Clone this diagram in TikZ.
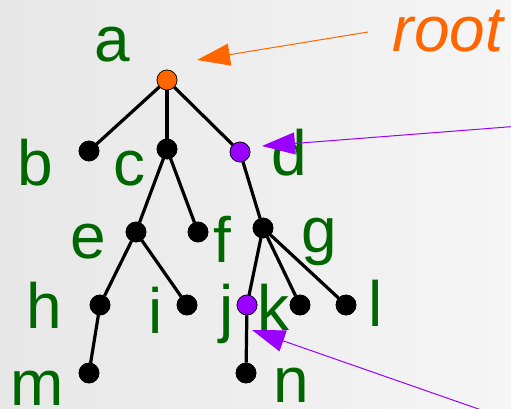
\documentclass[tikz,border=0pt]{standalone}
\usepackage{fontspec}
\setmainfont{Liberation Sans}
\usetikzlibrary{arrows.meta}
\definecolor{bgleft}{RGB}{231,231,231}
\definecolor{bgright}{RGB}{245,245,245}
\definecolor{labelgreen}{RGB}{0,102,0}
\definecolor{rootorange}{RGB}{255,102,0}
\definecolor{markpurple}{RGB}{153,0,255}
\tikzset{
  vertex/.style={circle, fill=black, draw=black, line width=0.6pt, minimum size=20pt, inner sep=0pt},
  rootvertex/.style={vertex, fill=rootorange},
  markvertex/.style={vertex, fill=markpurple},
  edge/.style={line width=3.2pt},
  lbl/.style={text=labelgreen, anchor=base, inner sep=0pt, font=\fontsize{64}{64}\selectfont},
  pointer/.style={line width=1pt, -{Triangle[length=33pt, width=22pt]}},
}
\begin{document}
\begin{tikzpicture}[x=1pt, y=-1pt]
  \useasboundingbox (0,0) rectangle (511,409);
  \clip (0,0) rectangle (511,409);
  \shade[left color=bgleft, right color=bgright] (0,0) rectangle (511,409);

  % tree vertices
  \node[rootvertex] (a) at (167,80) {};
  \node[vertex] (b) at (89,151) {};
  \node[vertex] (c) at (167,149) {};
  \node[markvertex] (d) at (240,152) {};
  \node[vertex] (e) at (136,232) {};
  \node[vertex] (f) at (198,232) {};
  \node[vertex] (g) at (263,228) {};
  \node[vertex] (h) at (100,305) {};
  \node[vertex] (i) at (187,305) {};
  \node[markvertex] (j) at (247,305) {};
  \node[vertex] (k) at (300,305) {};
  \node[vertex] (l) at (346,305) {};
  \node[vertex] (m) at (89,373) {};
  \node[vertex] (n) at (246,373) {};

  % tree edges
  \draw[edge] (a) -- (b);
  \draw[edge] (a) -- (c);
  \draw[edge] (a) -- (d);
  \draw[edge] (c) -- (e);
  \draw[edge] (c) -- (f);
  \draw[edge] (d) -- (g);
  \draw[edge] (e) -- (h);
  \draw[edge] (e) -- (i);
  \draw[edge] (h) -- (m);
  \draw[edge] (g) -- (j);
  \draw[edge] (g) -- (k);
  \draw[edge] (g) -- (l);
  \draw[edge] (j) -- (n);

  % redraw vertices over the edges
  \foreach \v/\s in {a/rootvertex,b/vertex,c/vertex,d/markvertex,e/vertex,f/vertex,g/vertex,h/vertex,i/vertex,j/markvertex,k/vertex,l/vertex,m/vertex,n/vertex}
    \node[\s] at (\v) {};

  % vertex labels
  \node[lbl] (la) at (112,62) {a};
  \node[lbl] (lb) at (35,185) {b};
  \node[lbl] (lc) at (129,185) {c};
  \node[lbl] (ld) at (289,175) {d};
  \node[lbl] (le) at (88,258) {e};
  \node[lbl] (lf) at (222,262) {f};
  \node[lbl] (lg) at (319,252) {g};
  \node[lbl] (lh) at (44,328) {h};
  \node[lbl] (li) at (156,333) {i};
  \node[lbl] (lj) at (227,330) {j};
  \node[lbl] (lk) at (273,330) {k};
  \node[lbl] (ll) at (376,326) {l};
  \node[lbl] (lm) at (37,405) {m};
  \node[lbl] (ln) at (291,402) {n};

  % annotation
  \node[lbl, text=rootorange, font=\fontsize{64}{64}\selectfont\itshape] (root) at (448,52) {root};

  \coordinate (rootfrom) at (368,32);
  \coordinate (roottip) at (197,60);
  \coordinate (dfrom) at (520,126);
  \coordinate (dtip) at (262,146);
  \coordinate (jfrom) at (490,413);
  \coordinate (jtip) at (252,330);
  \draw[pointer, rootorange] (rootfrom) -- (roottip);
  \draw[pointer, markpurple] (dfrom) -- (dtip);
  \draw[pointer, markpurple] (jfrom) -- (jtip);
\end{tikzpicture}
\end{document}
